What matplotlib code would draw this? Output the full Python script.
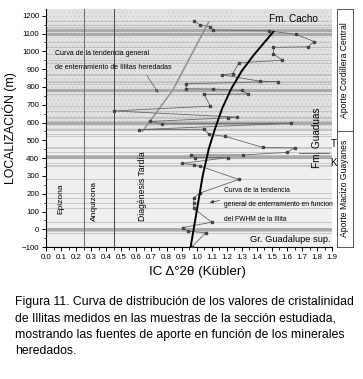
import numpy as np
import matplotlib
matplotlib.use('Agg')
import matplotlib.pyplot as plt
from matplotlib.patches import Rectangle

plt.rcParams['font.family'] = ['Liberation Sans', 'DejaVu Sans']
plt.rcParams['hatch.linewidth'] = 0.6

# Illite crystallinity samples, ordered top to bottom (IC, elevation m)
ic = [0.98, 1.02, 1.09, 1.11, 1.48, 1.66, 1.78, 1.74, 1.51, 1.51, 1.57, 1.28,
      1.24, 1.17, 1.42, 1.54, 0.93, 0.93, 1.11, 1.30, 1.34, 1.05, 1.09, 0.45,
      1.27, 1.21, 0.69, 0.77, 1.63, 0.62, 1.05, 1.08, 1.19,
      1.44, 1.65, 1.60, 1.31, 0.96, 0.99, 1.21, 0.90, 0.98, 1.02, 1.28, 1.02,
      0.98, 0.98, 0.98, 1.10, 0.91, 0.94, 1.06, 0.97]
elev = [1170, 1150, 1138, 1120, 1115, 1095, 1055, 1025, 1022, 985, 950, 935,
        875, 868, 832, 830, 818, 790, 788, 780, 760, 758, 692, 665,
        630, 626, 606, 592, 596, 560, 562, 535, 522,
        460, 457, 432, 418, 418, 403, 403, 370, 362, 356, 280, 203,
        177, 145, 117, 40, 10, -10, -20, -97]

# burial trend from illite FWHM (black curve)
trend_ic = [0.96, 1.00, 1.04, 1.08, 1.12, 1.17, 1.23, 1.30, 1.38, 1.45, 1.51]
trend_elev = [-100, 100, 300, 450, 560, 680, 790, 890, 980, 1050, 1110]

# burial trend of inherited illites (gray line)
inh_ic = [0.64, 0.84, 1.08]
inh_elev = [550, 780, 1165]

# thicker gray bands marking main levels
band_elev = [1122, 1100, 785, 600, 405, 0]

zone_limits = [0.25, 0.45]
source_limit = 555

xticks = np.arange(0, 1.91, 0.1)
yticks = np.arange(-100, 1201, 100)

fig = plt.figure(figsize=(3.63, 3.79), dpi=100)
ax = fig.add_axes([0.127, 0.348, 0.788, 0.627])
ax.set_xlim(0, 1.9)
ax.set_ylim(-100, 1235)
ax.set_facecolor('#efefef')

# stippled upper block (Cordillera Central source)
ax.add_patch(Rectangle((0, source_limit), 1.9, 700, facecolor='#e2e2e2',
                       hatch='....', edgecolor='#cdcdcd', lw=0, zorder=0))

for y in elev:
    ax.axhline(y, color='#b8b8b8', lw=0.5, zorder=1)
for y in band_elev:
    ax.axhline(y, color='#aaaaaa', lw=2.2, zorder=1)

for x, c in zip(zone_limits, ['#6a6a6a', '#444444']):
    ax.axvline(x, color=c, lw=0.7, zorder=2)

ax.plot(inh_ic, inh_elev, color='#8a8a8a', lw=1.0, zorder=3)
ax.plot(ic, elev, color='#666666', lw=0.6, marker='s', ms=2,
        mfc='#444444', mec='#444444', zorder=4)
ax.plot(trend_ic, trend_elev, color='black', lw=1.4, zorder=5)

# zone labels
ax.text(0.097, 169, 'Epizona', rotation=90, ha='center', va='center', fontsize=6)
ax.text(0.32, 157, 'Anquizona', rotation=90, ha='center', va='center', fontsize=6)
ax.text(0.64, 242, 'Diagénesis Tardía', rotation=90, ha='center', va='center',
        fontsize=6.2)

# annotations
ax.text(0.057, 989, 'Curva de la tendencia general', fontsize=5, va='center')
ax.text(0.057, 910, 'de enterramiento de Illitas heredadas', fontsize=5,
        va='center')
ax.annotate('', xy=(0.755, 753), xytext=(0.66, 877),
            arrowprops=dict(arrowstyle='-|>', color='#555555', lw=0.5,
                            mutation_scale=5))
ax.text(1.18, 219, 'Curva de la tendencia', fontsize=4.9, va='center')
ax.text(1.18, 140, 'general de enterramiento en funcion', fontsize=4.9,
        va='center')
ax.text(1.18, 56, 'del FWHM de la Illita', fontsize=4.9, va='center')
ax.annotate('', xy=(1.07, 148), xytext=(1.17, 165),
            arrowprops=dict(arrowstyle='-|>', color='#333333', lw=0.5,
                            mutation_scale=5))

ax.text(1.64, 1180, 'Fm. Cacho', fontsize=7.2, ha='center', va='center')
ax.text(1.80, 517, 'Fm. Guaduas', fontsize=7.2, rotation=90, ha='center',
        va='center')
ax.plot([1.68, 1.88], [427, 427], color='#555555', lw=0.6)
ax.text(1.91, 478, 'T', fontsize=7, ha='center', va='center', clip_on=False)
ax.text(1.91, 375, 'K', fontsize=7, ha='center', va='center', clip_on=False)
ax.text(1.89, -56, 'Gr. Guadalupe sup.', fontsize=6.7, ha='right', va='center')

ax.spines['top'].set_visible(False)
ax.spines['right'].set_visible(False)
ax.set_xticks(xticks)
ax.set_xticklabels([f'{v:.1f}' for v in xticks])
ax.set_xticks(np.arange(0.05, 1.9, 0.1), minor=True)
ax.set_yticks(yticks)
ax.set_yticks(np.arange(-50, 1201, 100), minor=True)
ax.tick_params(which='major', direction='out', length=3, width=0.7,
               labelsize=5.7, pad=2)
ax.tick_params(which='minor', direction='out', length=1.8, width=0.6)
ax.set_ylabel('LOCALIZACIÓN (m)', fontsize=8.8, labelpad=3)
fig.text(198 / 363, 1 - 272 / 379, 'IC Δ°2θ (Kübler)', fontsize=9.6,
         ha='center', va='center')

# source-area panel
pan = fig.add_axes([0.9284, 0.348, 0.044, 0.627])
pan.set_xlim(0, 1)
pan.set_ylim(-100, 1235)
pan.set_xticks([])
pan.set_yticks([])
pan.axhline(source_limit, color='#555555', lw=0.7)
pan.text(0.5, (source_limit + 1235) / 2, 'Aporte Cordillera Central',
         rotation=90, ha='center', va='center', fontsize=6.2)
pan.text(0.5, (source_limit - 100) / 2, 'Aporte Macizo Guayanes',
         rotation=90, ha='center', va='center', fontsize=6.2)
for s in pan.spines.values():
    s.set_color('#555555')
    s.set_linewidth(0.7)

caption = ['Figura 11. Curva de distribución de los valores de cristalinidad',
           'de Illitas medidos en las muestras de la sección estudiada,',
           'mostrando las fuentes de aporte en función de los minerales',
           'heredados.']
for i, line in enumerate(caption):
    fig.text(15 / 363, 1 - (302.5 + 16.2 * i) / 379, line, fontsize=8.8,
             va='center', ha='left')

fig.savefig('out.png', dpi=100)
